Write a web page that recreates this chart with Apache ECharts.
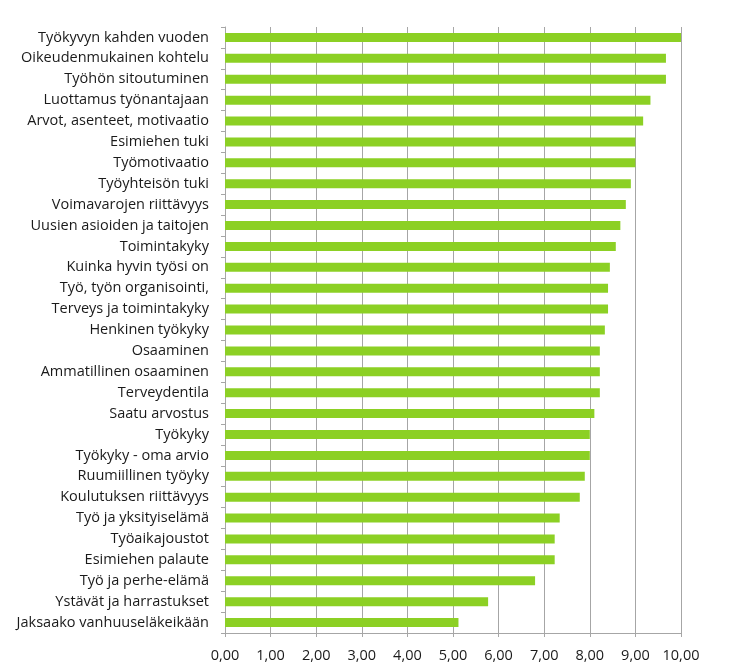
<!DOCTYPE html>
<html><head><meta charset="utf-8">
<script src="https://cdn.jsdelivr.net/npm/echarts@6/dist/echarts.min.js"></script>
<style>html,body{margin:0;padding:0;background:#fff}#c{width:746px;height:671px}</style>
</head><body><div id="c"></div>
<script>
const categories = [
  "Työkyvyn kahden vuoden","Oikeudenmukainen kohtelu","Työhön sitoutuminen","Luottamus työnantajaan",
  "Arvot, asenteet, motivaatio","Esimiehen tuki","Työmotivaatio","Työyhteisön tuki",
  "Voimavarojen riittävyys","Uusien asioiden ja taitojen","Toimintakyky","Kuinka hyvin työsi on",
  "Työ, työn organisointi,","Terveys ja toimintakyky","Henkinen työkyky","Osaaminen",
  "Ammatillinen osaaminen","Terveydentila","Saatu arvostus","Työkyky",
  "Työkyky - oma arvio","Ruumiillinen työyky","Koulutuksen riittävyys","Työ ja yksityiselämä",
  "Työaikajoustot","Esimiehen palaute","Työ ja perhe-elämä","Ystävät ja harrastukset",
  "Jaksaako vanhuuseläkeikään"
];
const values = [
  10.00, 9.67, 9.67, 9.33,
  9.17, 9.00, 9.00, 8.90,
  8.79, 8.67, 8.57, 8.44,
  8.40, 8.40, 8.33, 8.22,
  8.22, 8.22, 8.10, 8.00,
  8.00, 7.89, 7.78, 7.34,
  7.23, 7.23, 6.80, 5.77,
  5.12
];
const chart = echarts.init(document.getElementById('c'), null, {renderer:'canvas'});
chart.setOption({
  animation:false,
  backgroundColor:'#fff',
  grid:{left:225,right:65,top:27,bottom:38,containLabel:false},
  xAxis:{type:'value',min:0,max:10,interval:1,
    axisLine:{show:true,lineStyle:{color:'#a6a6a6',width:1}},
    axisTick:{show:true,length:4,lineStyle:{color:'#a6a6a6'}},
    axisLabel:{formatter:v=>v.toFixed(2).replace('.',','),color:'#1a1a1a',fontFamily:'Open Sans',fontSize:14.5,margin:15},
    splitLine:{show:true,lineStyle:{color:'#a6a6a6',width:1}}
  },
  yAxis:{type:'category',data:categories,inverse:true,
    axisLine:{show:true,lineStyle:{color:'#a6a6a6',width:1}},
    axisTick:{show:true,length:4,lineStyle:{color:'#a6a6a6'}},
    axisLabel:{color:'#1a1a1a',fontFamily:'Open Sans',fontSize:14.5,margin:16}
  },
  series:[{type:'bar',data:values,barWidth:9,itemStyle:{color:'#8CD024'}}]
});
</script></body></html>
